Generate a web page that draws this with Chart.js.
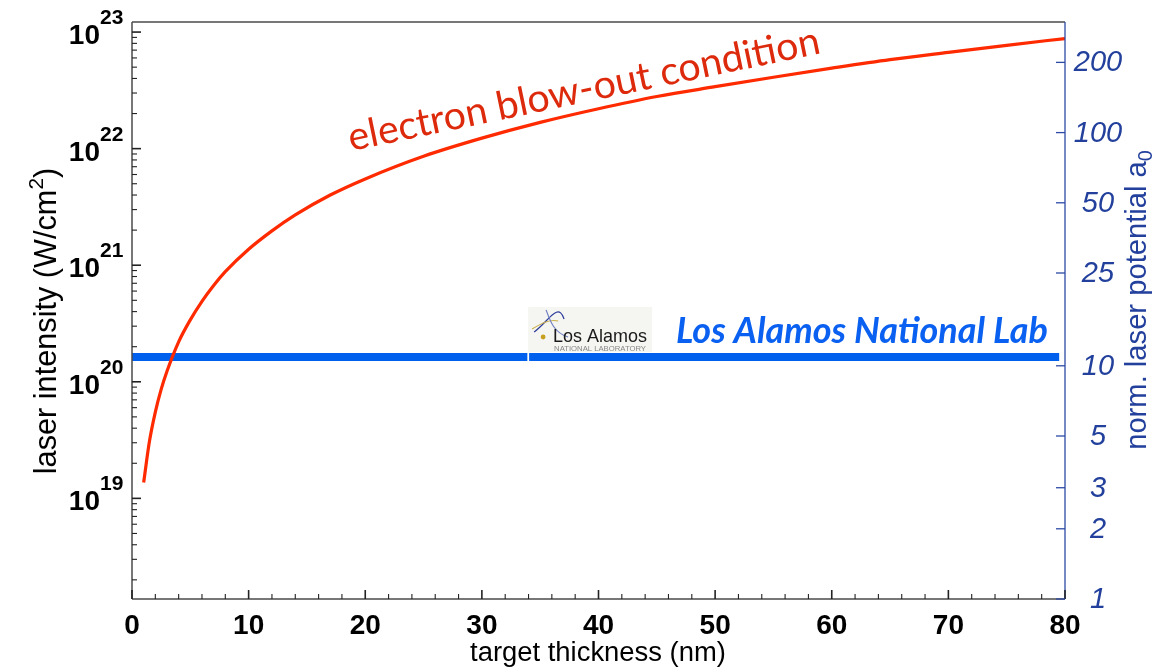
<!DOCTYPE html>
<html>
<head>
<meta charset="utf-8">
<script src="https://cdn.jsdelivr.net/npm/chart.js@4.4.1/dist/chart.umd.min.js"></script>
<style>
    html, body { margin: 0; padding: 0; background: #fff; }
    #wrap { width: 1159px; height: 668px; position: relative; }
</style>
</head>
<body>
<div id="wrap"><canvas id="chart"></canvas></div>
<script>
// === Data ===
const thickness = [1, 1.5, 2, 2.5, 3, 4, 5, 6, 7, 8, 10, 12, 14, 17, 20, 25, 30, 35, 40, 45, 50, 55, 60, 65, 70, 75, 80];
const intensity = [1.37e19, 3.1e19, 5.5e19, 8.6e19, 1.23e20, 2.2e20, 3.4e20, 4.9e20, 6.7e20, 8.8e20,
                   1.37e21, 1.97e21, 2.7e21, 4.0e21, 5.5e21, 8.6e21, 1.23e22, 1.68e22, 2.2e22, 2.8e22,
                   3.4e22, 4.1e22, 4.9e22, 5.8e22, 6.7e22, 7.7e22, 8.8e22];

// LANL line: two segments with a hairline gap near 34 nm
const lanlLeft = [0, 33.9];
const lanlRight = [34.05, 79.5];
const lanlLevel = 1.63e20;

// === Axes ===
const xRange = [0, 80];
const xTicks = [0, 10, 20, 30, 40, 50, 60, 70, 80];
const xMinorStep = 2;
const intensityRange = [1.37e18, 1.22e23];
const intensityDecades = [19, 20, 21, 22, 23];
const a0Range = [1, 298];
const a0Ticks = [1, 2, 3, 5, 10, 25, 50, 100, 200];

const BLUE_TXT = '#22409c';
const SANS = '"Liberation Sans", Arial, Helvetica, sans-serif';

function fitSize(ctx, text, font, width) {
    ctx.font = font.replace('{s}', '100px');
    return 100 * width / ctx.measureText(text).width;
}

function seg(ctx, x1, y1, x2, y2) {
    ctx.beginPath();
    ctx.moveTo(x1, y1);
    ctx.lineTo(x2, y2);
    ctx.stroke();
}

function drawLogo(chart) {
    const ctx = chart.ctx;
    const x0 = chart.scales.x.getPixelForValue(lanlRight[0]) - 1;
    const y0 = 307;
    ctx.save();
    ctx.fillStyle = '#f5f5f2';
    ctx.fillRect(x0, y0, 124, 45);
    // orbit swoosh
    ctx.lineWidth = 1.2;
    ctx.strokeStyle = '#2b3a9a';
    ctx.beginPath();
    ctx.moveTo(x0 + 6, y0 + 25);
    ctx.bezierCurveTo(x0 + 20, y0 + 15, x0 + 30, y0 - 6, x0 + 36, y0 + 12);
    ctx.stroke();
    ctx.strokeStyle = '#c9b04a';
    ctx.beginPath();
    ctx.moveTo(x0 + 4, y0 + 22);
    ctx.bezierCurveTo(x0 + 14, y0 + 16, x0 + 22, y0 + 12, x0 + 30, y0 + 14);
    ctx.stroke();
    ctx.strokeStyle = '#6f7fc0';
    ctx.beginPath();
    ctx.moveTo(x0 + 18, y0 + 3);
    ctx.bezierCurveTo(x0 + 22, y0 + 14, x0 + 26, y0 + 26, x0 + 40, y0 + 30);
    ctx.stroke();
    ctx.fillStyle = '#c8a020';
    ctx.beginPath();
    ctx.arc(x0 + 15, y0 + 30, 2.4, 0, Math.PI * 2);
    ctx.fill();
    // wordmark
    ctx.fillStyle = '#1a1a1a';
    ctx.font = fitSize(ctx, 'Los Alamos', '{s} ' + SANS, 94) + 'px ' + SANS;
    ctx.textBaseline = 'alphabetic';
    ctx.fillText('Los Alamos', x0 + 25, y0 + 35);
    ctx.fillStyle = '#888';
    ctx.font = fitSize(ctx, 'NATIONAL LABORATORY', '{s} ' + SANS, 92) + 'px ' + SANS;
    ctx.fillText('NATIONAL LABORATORY', x0 + 26, y0 + 44);
    ctx.restore();
}

const framePlugin = {
    id: 'frame',
    beforeDatasetsDraw(chart) {
        drawLogo(chart);
    },
    afterDatasetsDraw(chart) {
        const { ctx, chartArea: a, scales } = chart;
        const xs = scales.x, ys = scales.y, rs = scales.a0;
        ctx.save();

        // frame lines
        ctx.lineWidth = 1.5;
        ctx.strokeStyle = '#4a4a4a';
        seg(ctx, a.left, a.top, a.right, a.top);
        seg(ctx, a.left, a.top, a.left, a.bottom);
        seg(ctx, a.left, a.bottom, a.right, a.bottom);
        ctx.strokeStyle = '#2c4aa6';
        ctx.lineWidth = 1.3;
        seg(ctx, a.right, a.top, a.right, a.bottom);

        // x ticks (inward)
        ctx.strokeStyle = '#222';
        for (let v = xRange[0]; v <= xRange[1]; v += xMinorStep) {
            const px = xs.getPixelForValue(v);
            const len = xTicks.includes(v) ? 9 : 5;
            ctx.lineWidth = xTicks.includes(v) ? 1.6 : 1.1;
            seg(ctx, px, a.bottom, px, a.bottom - len);
        }
        // left log ticks
        for (let e = 18; e <= 23; e++) {
            for (let m = 1; m <= 9; m++) {
                const v = m * Math.pow(10, e);
                if (v < intensityRange[0] || v > intensityRange[1]) continue;
                const py = ys.getPixelForValue(v);
                ctx.lineWidth = m === 1 ? 1.6 : 1.1;
                seg(ctx, a.left, py, a.left + (m === 1 ? 9 : 5), py);
            }
        }
        // right a0 ticks
        ctx.strokeStyle = '#2c4aa6';
        ctx.lineWidth = 1.3;
        a0Ticks.forEach(v => {
            const py = rs.getPixelForValue(v);
            seg(ctx, a.right, py, a.right - 9, py);
        });

        // x tick labels
        ctx.fillStyle = '#000';
        ctx.font = 'bold 28px ' + SANS;
        ctx.textAlign = 'center';
        ctx.textBaseline = 'alphabetic';
        xTicks.forEach(v => ctx.fillText(String(v), xs.getPixelForValue(v), a.bottom + 35));

        // left tick labels 10^n
        intensityDecades.forEach(e => {
            const py = ys.getPixelForValue(Math.pow(10, e));
            ctx.font = 'bold 28px ' + SANS;
            ctx.textAlign = 'right';
            ctx.fillText('10', a.left - 32, py + 12);
            ctx.font = 'bold 21px ' + SANS;
            ctx.textAlign = 'left';
            ctx.fillText(String(e), a.left - 32, py - 8);
        });

        // right tick labels
        ctx.fillStyle = BLUE_TXT;
        ctx.font = 'italic 29px ' + SANS;
        ctx.textAlign = 'center';
        ctx.textBaseline = 'middle';
        a0Ticks.forEach(v => ctx.fillText(String(v), a.right + 33, rs.getPixelForValue(v) + 1));

        // x title
        ctx.fillStyle = '#000';
        ctx.textBaseline = 'alphabetic';
        ctx.textAlign = 'center';
        const xt = 'target thickness (nm)';
        ctx.font = fitSize(ctx, xt, '{s} ' + SANS, 256) + 'px ' + SANS;
        ctx.fillText(xt, 598, 661);

        // left title with superscript
        {
            const s = fitSize(ctx, 'laser intensity (W/cm2)', '{s} ' + SANS, 312);
            const p1 = 'laser intensity (W/cm', p2 = '2', p3 = ')';
            ctx.font = s + 'px ' + SANS;
            const w1 = ctx.measureText(p1).width, w3 = ctx.measureText(p3).width;
            ctx.font = (s * 0.68) + 'px ' + SANS;
            const w2 = ctx.measureText(p2).width;
            const total = w1 + w2 + w3;
            ctx.save();
            ctx.translate(56, 321);
            ctx.rotate(-Math.PI / 2);
            ctx.textAlign = 'left';
            let x = -total / 2;
            ctx.font = s + 'px ' + SANS;
            ctx.fillText(p1, x, 0);
            x += w1;
            ctx.font = (s * 0.68) + 'px ' + SANS;
            ctx.fillText(p2, x, -s * 0.42);
            x += w2;
            ctx.font = s + 'px ' + SANS;
            ctx.fillText(p3, x, 0);
            ctx.restore();
        }

        // right title with subscript
        {
            const p1 = 'norm. laser potential a', p2 = '0';
            const s = fitSize(ctx, p1 + p2, '{s} ' + SANS, 305);
            ctx.fillStyle = BLUE_TXT;
            ctx.font = s + 'px ' + SANS;
            const w1 = ctx.measureText(p1).width;
            ctx.font = (s * 0.68) + 'px ' + SANS;
            const w2 = ctx.measureText(p2).width;
            const total = w1 + w2;
            ctx.save();
            ctx.translate(1146, 300);
            ctx.rotate(-Math.PI / 2);
            ctx.textAlign = 'left';
            let x = -total / 2;
            ctx.font = s + 'px ' + SANS;
            ctx.fillText(p1, x, 0);
            x += w1;
            ctx.font = (s * 0.68) + 'px ' + SANS;
            ctx.fillText(p2, x, s * 0.2);
            ctx.restore();
        }

        // curve annotation
        {
            const t = 'electron blow-out condition';
            const f = '{s} Lato, "Open Sans", sans-serif';
            const s = fitSize(ctx, t, f, 481);
            ctx.fillStyle = '#dd2a0c';
            ctx.font = f.replace('{s}', s + 'px');
            ctx.save();
            ctx.translate(351, 151);
            ctx.rotate(-Math.atan2(98, 471));
            ctx.textAlign = 'left';
            ctx.fillText(t, 0, 0);
            ctx.restore();
        }

        // LANL label
        {
            const t = 'Los Alamos National Lab';
            const f = 'italic bold {s} Lato, "Open Sans", sans-serif';
            const s = fitSize(ctx, t, f, 372);
            ctx.fillStyle = '#0a60f0';
            ctx.font = f.replace('{s}', s + 'px');
            ctx.textAlign = 'left';
            ctx.fillText(t, 676, 343);
        }
        ctx.restore();
    }
};

const ctx = document.getElementById('chart').getContext('2d');
new Chart(ctx, {
    type: 'line',
    data: {
        datasets: [
            {
                label: 'electron blow-out condition',
                data: thickness.map((x, i) => ({ x, y: intensity[i] })),
                borderColor: '#ff2a00',
                borderWidth: 3.2,
                pointRadius: 0,
                cubicInterpolationMode: 'monotone',
                yAxisID: 'y'
            },
            {
                label: 'LANL',
                data: lanlLeft.map(x => ({ x, y: lanlLevel })),
                borderColor: '#0060ee',
                borderWidth: 8,
                borderCapStyle: 'butt',
                pointRadius: 0,
                yAxisID: 'y'
            },
            {
                label: 'LANL 2',
                data: lanlRight.map(x => ({ x, y: lanlLevel })),
                borderColor: '#0060ee',
                borderWidth: 8,
                borderCapStyle: 'butt',
                pointRadius: 0,
                yAxisID: 'y'
            }
        ]
    },
    options: {
        responsive: true,
        maintainAspectRatio: false,
        animation: false,
        layout: { padding: { left: 132, right: 94, top: 22, bottom: 69 } },
        plugins: { legend: { display: false }, tooltip: { enabled: false } },
        scales: {
            x: { type: 'linear', display: false, min: xRange[0], max: xRange[1] },
            y: { type: 'logarithmic', display: false, min: intensityRange[0], max: intensityRange[1] },
            a0: { type: 'logarithmic', display: false, position: 'right', min: a0Range[0], max: a0Range[1] }
        }
    },
    plugins: [framePlugin]
});
</script>
</body>
</html>
